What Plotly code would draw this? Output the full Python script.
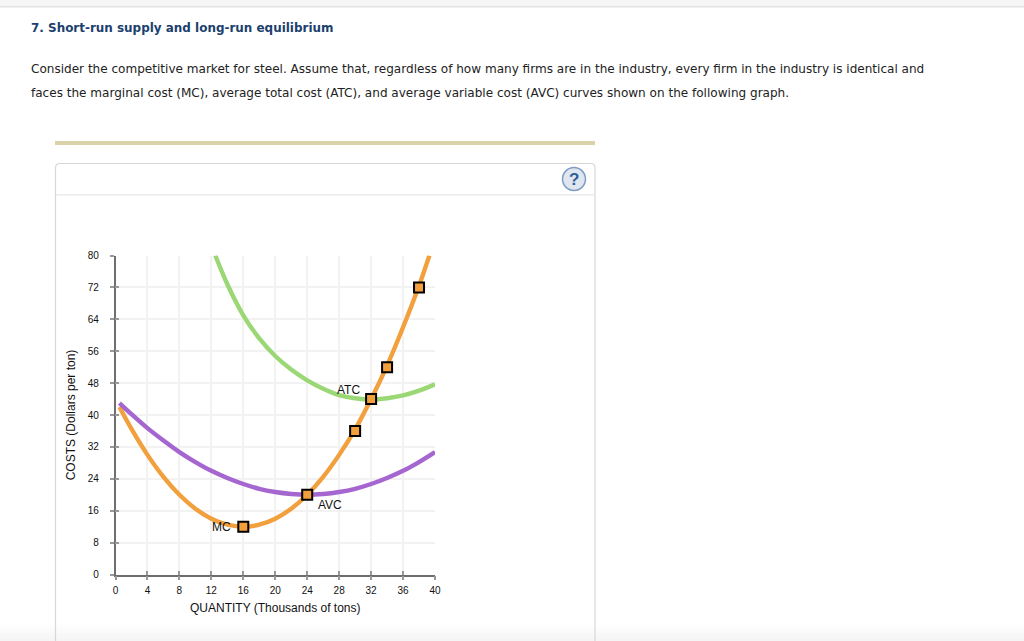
import plotly.graph_objects as go

W, H = 1024, 641

# curves
mc_q = [0.5, 2, 4, 6, 8, 10, 12, 14, 16, 18, 20, 22, 24, 26, 28, 30, 32, 34, 36, 38, 39.3]
mc_cost = [42, 36.5, 30, 24.5, 20, 16.5, 14, 12.5, 12, 12.5, 14, 16.5, 20, 24.5, 30, 36.4, 44, 52.4, 62, 72.4, 80]
atc_q = [12.5, 14, 16, 18, 20, 22, 24, 26, 28, 30, 32, 34, 36, 38, 40]
atc_cost = [80, 72.8, 65, 59.2, 54.8, 51.4, 48.7, 46.6, 45, 44.2, 43.9, 44.2, 44.9, 46.1, 47.7]
avc_q = [0.5, 2, 4, 6, 8, 10, 12, 14, 16, 18, 20, 22, 24, 26, 28, 30, 32, 34, 36, 38, 40]
avc_cost = [43, 40.2, 36.7, 33.6, 30.7, 28.2, 26, 24.2, 22.7, 21.5, 20.7, 20.2, 20, 20.2, 20.7, 21.5, 22.7, 24.2, 26, 28.2, 30.7]
point_q = [16, 24, 30, 32, 34, 38]
point_cost = [12, 20, 36, 44, 52, 72]

x_ticks = [0, 4, 8, 12, 16, 20, 24, 28, 32, 36, 40]
y_ticks = [0, 8, 16, 24, 32, 40, 48, 56, 64, 72, 80]

TITLE = "7. Short-run supply and long-run equilibrium"
LINE1 = ("Consider the competitive market for steel. Assume that, regardless of how many firms are in the "
         "industry, every firm in the industry is identical and")
LINE2 = "faces the marginal cost (MC), average total cost (ATC), and average variable cost (AVC) curves shown on the following graph."

ORANGE = "#F2A03D"
GREEN = "#9BD875"
PURPLE = "#A566D0"
CHART_FONT = "Liberation Sans"
PAGE_FONT = "DejaVu Sans"


def px(x):
    return x / W


def py(y):
    return 1 - y / H


def rect(x0, y0, x1, y1, fill, line=None):
    return dict(type="rect", xref="paper", yref="paper", x0=px(x0), x1=px(x1), y0=py(y0), y1=py(y1),
                fillcolor=fill, line=dict(width=0 if line is None else 1, color=line or fill), layer="below")


def page_text(x, y, text, size, color="#222222", bold=False, font=PAGE_FONT):
    return dict(xref="paper", yref="paper", x=px(x), y=py(y), text=f"<b>{text}</b>" if bold else text,
                showarrow=False, xanchor="left", yanchor="middle", font=dict(size=size, color=color, family=font))


def curve_label(q, cost, text):
    return dict(xref="x", yref="y", x=q, y=cost, text=text, showarrow=False,
                font=dict(size=12, color="#111111", family=CHART_FONT))


def curve(q, cost, color, name):
    return go.Scatter(x=q, y=cost, mode="lines", cliponaxis=False, name=name,
                      line=dict(color=color, width=4.4, shape="spline", simplify=False))


# panel outline with rounded top corners, runs off the bottom of the page
panel_path = (f"M {px(55.5)} {py(641)} L {px(55.5)} {py(168)} Q {px(55.5)} {py(163.5)} {px(60)} {py(163.5)} "
              f"L {px(591)} {py(163.5)} Q {px(595)} {py(163.5)} {px(595)} {py(168)} L {px(595)} {py(641)}")

# faint fade at the bottom of the page
fade_colors = ["#fefefe", "#fcfcfc", "#fbfbfb", "#f9f9f9", "#f7f7f7", "#f6f6f6", "#f5f5f5"]
fade = [rect(0, 624 + 2.5 * i, 1024, 641 if i == 6 else 624 + 2.5 * (i + 1), c) for i, c in enumerate(fade_colors)]

shapes = fade + [
    rect(0, 0, 1024, 6, "#f6f6f6"),
    rect(0, 6, 1024, 7.5, "#e3e3e3"),
    rect(55, 141, 595, 145, "#DBD1A8"),
    dict(type="path", xref="paper", yref="paper", path=panel_path, line=dict(color="#d8d8d8", width=1.2), layer="below"),
    rect(56, 194, 594.5, 195.5, "#ececec"),
    dict(type="circle", xref="paper", yref="paper", x0=px(562.5), x1=px(585.5), y0=py(167.5), y1=py(190.5),
         fillcolor="#DFE6EF", line=dict(color="#7F9CC3", width=1.5), layer="below"),
]

annotations = [
    page_text(29, 27.5, TITLE, 11.96, color="#1B3F6E", bold=True),
    page_text(29, 69, LINE1, 12.06),
    page_text(29, 93, LINE2, 12.06),
    dict(xref="paper", yref="paper", x=px(574), y=py(179), text="<b>?</b>", showarrow=False,
         xanchor="center", yanchor="middle", font=dict(size=17, color="#2F5F96", family=CHART_FONT)),
    curve_label(29.2, 46.3, "ATC"),
    curve_label(26.8, 17.4, "AVC"),
    curve_label(13.3, 11.8, "MC"),
]

fig = go.Figure()
fig.add_trace(curve(atc_q, atc_cost, GREEN, "ATC"))
fig.add_trace(curve(mc_q, mc_cost, ORANGE, "MC"))
fig.add_trace(curve(avc_q, avc_cost, PURPLE, "AVC"))
fig.add_trace(go.Scatter(x=point_q, y=point_cost, mode="markers", cliponaxis=False, name="MC points",
                         marker=dict(symbol="square", size=10, color=ORANGE, line=dict(color="#000000", width=2))))
# empty trace so the second pair of axes gets drawn, gives the inner half of the ticks
fig.add_trace(go.Scatter(x=[None], y=[None], xaxis="x2", yaxis="y2", showlegend=False))

axis_common = dict(linecolor="#6e6e6e", linewidth=1.5, tickcolor="#999999", tickwidth=1.5, zeroline=False)

fig.update_layout(
    width=W, height=H, autosize=False, margin=dict(l=0, r=0, t=0, b=0),
    paper_bgcolor="white", plot_bgcolor="white", showlegend=False,
    shapes=shapes, annotations=annotations,
    xaxis=dict(domain=[px(115.5), px(435)], range=[0, 40], tickmode="array", tickvals=x_ticks, ticks="outside", ticklen=4,
               showgrid=True, gridcolor="#f2f2f2", gridwidth=1.5, automargin=False, ticklabelstandoff=2,
               tickfont=dict(size=10, color="#111111", family=CHART_FONT),
               title=dict(text="QUANTITY (Thousands of tons)", standoff=8, font=dict(size=12, color="#111111", family=CHART_FONT)),
               **axis_common),
    yaxis=dict(domain=[py(574.5), py(255.5)], range=[0, 80], tickmode="array", tickvals=y_ticks, ticks="outside", ticklen=4,
               showgrid=True, gridcolor="#f2f2f2", gridwidth=1.5, automargin=False, ticklabelstandoff=9,
               tickfont=dict(size=10, color="#111111", family=CHART_FONT),
               title=dict(text="COSTS (Dollars per ton)", standoff=9, font=dict(size=12, color="#111111", family=CHART_FONT)),
               **axis_common),
    xaxis2=dict(overlaying="x", range=[0, 40], tickmode="array", tickvals=x_ticks, ticks="inside", ticklen=4, side="bottom",
                showticklabels=False, showgrid=False, anchor="y2", matches="x", **axis_common),
    yaxis2=dict(overlaying="y", range=[0, 80], tickmode="array", tickvals=y_ticks, ticks="inside", ticklen=4, side="left",
                showticklabels=False, showgrid=False, anchor="x2", matches="y", **axis_common),
)

fig.write_html("out.html", config=dict(displayModeBar=False),
               post_script="document.body.style.margin='0';document.body.style.overflow='hidden';")
